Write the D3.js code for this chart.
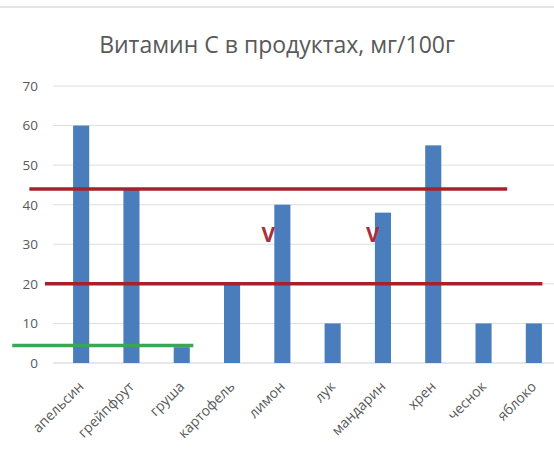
<!DOCTYPE html>
<html>
<head>
<meta charset="utf-8">
<script src="https://cdn.jsdelivr.net/npm/d3@7"></script>
<style>
  body { margin: 0; background: #fff; }
  svg { display: block; font-family: 'Open Sans', 'DejaVu Sans', sans-serif; }
</style>
</head>
<body>
<div id="chart"></div>
<script>
const title = 'Витамин С в продуктах, мг/100г';
const products = ['апельсин', 'грейпфрут', 'груша', 'картофель', 'лимон', 'лук', 'мандарин', 'хрен', 'чеснок', 'яблоко'];
const vitaminC = [60, 44, 4, 20, 40, 10, 38, 55, 10, 10];
const yTicks = [0, 10, 20, 30, 40, 50, 60, 70];

// hand-drawn marks over the chart: level, start / end in category index units
const refLines = [
  { value: 44, from: -1.03, to: 8.47, color: '#a8202c' },
  { value: 20, from: -0.72, to: 9.17, color: '#a8202c' },
  { value: 4.4, from: -1.37, to: 2.23, color: '#3aa757' }
];
const checkMarks = [
  { index: 3.72, value: 30.5 },
  { index: 5.8, value: 30.5 }
];

const width = 554;
const height = 453;

const svg = d3.select('#chart')
  .append('svg')
  .attr('width', width)
  .attr('height', height);

/* frame line at the top of the chart area */
svg.append('line')
  .attr('x1', 0).attr('x2', width)
  .attr('y1', 7).attr('y2', 7)
  .attr('stroke', '#dcdcdc')
  .attr('stroke-width', 1.5);

const x = d3.scaleBand()
  .domain(products)
  .range([56, 559])
  .paddingInner(0.68)
  .paddingOuter(0.34);

const y = d3.scaleLinear()
  .domain([0, 70])
  .range([363, 86]);

// category index -> pixel, for the annotations
const xi = d3.scaleLinear()
  .domain([0, products.length - 1])
  .range([x(products[0]) + x.bandwidth() / 2, x(products[products.length - 1]) + x.bandwidth() / 2]);

/* gridlines */
svg.append('g')
  .selectAll('line')
  .data(yTicks)
  .enter()
  .append('line')
  .attr('x1', 53)
  .attr('x2', width)
  .attr('y1', d => y(d))
  .attr('y2', d => y(d))
  .attr('stroke', d => d === 0 ? '#d0d0d0' : '#dedede')
  .attr('stroke-width', 1);

/* y axis labels */
const yAxis = d3.axisLeft(y)
  .tickValues(yTicks)
  .tickSize(0)
  .tickPadding(0);

svg.append('g')
  .attr('transform', 'translate(38,0)')
  .call(yAxis)
  .call(g => g.select('.domain').remove())
  .call(g => g.selectAll('text')
    .attr('fill', '#595959')
    .attr('font-size', 13.5)
    .attr('font-family', "'Open Sans', sans-serif"));

/* bars */
svg.append('g')
  .selectAll('rect')
  .data(products)
  .enter()
  .append('rect')
  .attr('x', d => x(d))
  .attr('width', x.bandwidth())
  .attr('y', (d, i) => y(vitaminC[i]))
  .attr('height', (d, i) => y(0) - y(vitaminC[i]))
  .attr('fill', '#4a7dbb');

/* x axis labels */
const xAxis = d3.axisBottom(x).tickSize(0).tickPadding(0);

svg.append('g')
  .attr('transform', `translate(0,${y(0) + 21})`)
  .call(xAxis)
  .call(g => g.select('.domain').remove())
  .call(g => g.selectAll('text')
    .attr('fill', '#595959')
    .attr('font-size', 14)
    .attr('font-family', "'Open Sans', sans-serif")
    .attr('text-anchor', 'end')
    .attr('y', 0)
    .attr('dy', '0.35em')
    .attr('transform', 'rotate(-45)'));

/* title */
svg.append('text')
  .attr('x', 277)
  .attr('y', 53)
  .attr('text-anchor', 'middle')
  .attr('fill', '#595959')
  .attr('font-size', 23)
  .text(title);

/* annotation lines */
svg.append('g')
  .selectAll('line')
  .data(refLines)
  .enter()
  .append('line')
  .attr('x1', d => xi(d.from))
  .attr('x2', d => xi(d.to))
  .attr('y1', d => y(d.value))
  .attr('y2', d => y(d.value))
  .attr('stroke', d => d.color)
  .attr('stroke-width', 3.5);

/* check marks */
svg.append('g')
  .selectAll('text')
  .data(checkMarks)
  .enter()
  .append('text')
  .attr('x', d => xi(d.index))
  .attr('y', d => y(d.value))
  .attr('text-anchor', 'middle')
  .attr('fill', '#a8303c')
  .attr('font-size', 21)
  .attr('font-weight', 'bold')
  .text('V');
</script>
</body>
</html>
